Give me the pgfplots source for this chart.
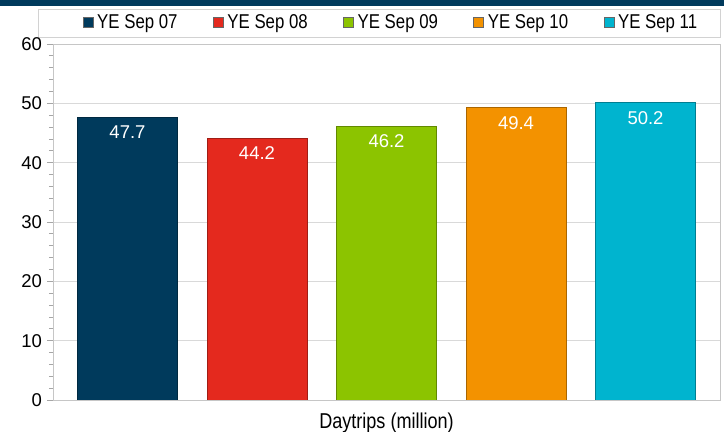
\documentclass[border=0pt]{standalone}
\usepackage{pgfplots}
\pgfplotsset{compat=1.18}
\usepackage{fontspec}
\setmainfont{Liberation Sans}
\newfontfamily\narrowfont[FakeStretch=0.84]{Liberation Sans}
\definecolor{cA}{HTML}{003A5C}
\definecolor{cB}{HTML}{E4291E}
\definecolor{cC}{HTML}{8CC400}
\definecolor{cD}{HTML}{F39200}
\definecolor{cE}{HTML}{00B4CF}
\begin{document}
\begin{tikzpicture}[x=1bp,y=1bp]
\useasboundingbox (-53bp,-32bp) rectangle (671bp,400bp);
\fill[cA] (-53bp,394bp) rectangle (671bp,400bp);
\draw[gray!35, line width=0.8bp] (-15bp,363bp) rectangle (667bp,391bp);
\begin{axis}[
  at={(0,0)}, anchor=south west,
  scale only axis, width=667bp, height=356bp,
  ybar, bar shift=0pt, bar width=0.77,
  xmin=-0.575, xmax=4.575,
  ymin=0, ymax=60,
  ytick={0,10,...,60}, minor y tick num=4,
  xtick=\empty,
  ytick pos=left,
  tick align=outside,
  major tick length=6bp, minor tick length=4bp,
  every tick/.style={gray!70, line width=0.8bp},
  axis line style={draw=gray!45, line width=0.8bp},
  ymajorgrids, grid style={gray!30, line width=0.8bp},
  /pgf/number format/assume math mode=true,
  yticklabel style={font=\fontsize{18.5bp}{20bp}\selectfont, text=black, xshift=-1.5bp},
  xlabel={\narrowfont\fontsize{21.5bp}{23bp}\selectfont Daytrips (million)},
  xlabel style={yshift=-3bp},
  nodes near coords,
  every node near coord/.append style={anchor=north, inner sep=0pt, yshift=-9bp, text=white, font=\fontsize{18.5bp}{20bp}\selectfont},
  legend columns=5,
  legend style={draw=none, fill=none, at={(0.5,1)}, anchor=south, yshift=10bp, xshift=4.5bp,
    font=\narrowfont\fontsize{20bp}{22bp}\selectfont,
    /tikz/every even column/.append style={column sep=33.5bp},
    /tikz/every odd column/.append style={column sep=2bp}},
  legend image code/.code={\draw[#1, draw=black!60] (0bp,-5bp) rectangle (10bp,5bp);},
]
\addplot[fill=cA, draw=cA!70!black] coordinates {(0,47.7)};
\addplot[fill=cB, draw=cB!70!black] coordinates {(1,44.2)};
\addplot[fill=cC, draw=cC!70!black] coordinates {(2,46.2)};
\addplot[fill=cD, draw=cD!70!black] coordinates {(3,49.4)};
\addplot[fill=cE, draw=cE!70!black] coordinates {(4,50.2)};
\legend{YE Sep 07,YE Sep 08,YE Sep 09,YE Sep 10,YE Sep 11}
\end{axis}
\end{tikzpicture}
\end{document}
